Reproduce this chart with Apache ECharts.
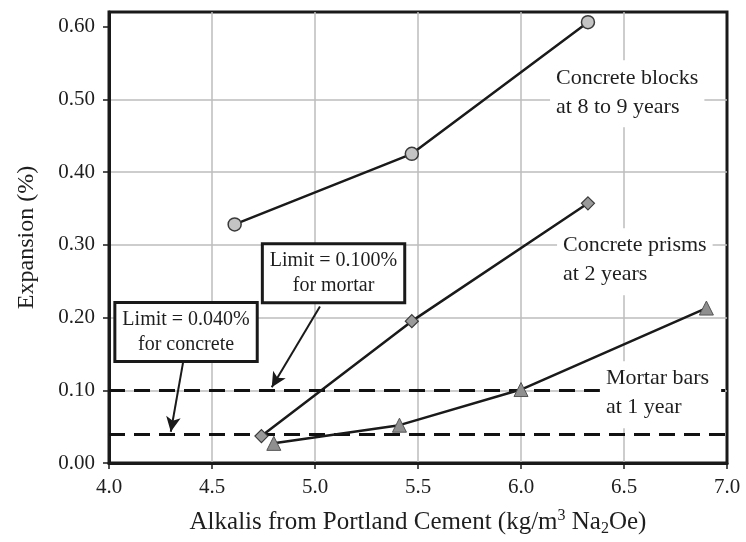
<!DOCTYPE html>
<html>
<head>
<meta charset="utf-8">
<script src="https://cdn.jsdelivr.net/npm/echarts@6/dist/echarts.min.js"></script>
<style>
  html, body { margin: 0; padding: 0; background: #fff; }
  #chart { width: 746px; height: 542px; }
</style>
</head>
<body>
<div id="chart"></div>
<script>
// Axis ticks
const xTicks = [4.0, 4.5, 5.0, 5.5, 6.0, 6.5, 7.0];
const yTicks = [0.0, 0.1, 0.2, 0.3, 0.4, 0.5, 0.6];

// Expansion (%) against alkali content (kg/m3 Na2Oe)
const blocksAlkali = [4.61, 5.47, 6.325];
const blocksExpansion = [0.328, 0.425, 0.606];
const prismsAlkali = [4.74, 5.47, 6.325];
const prismsExpansion = [0.037, 0.195, 0.357];
const mortarAlkali = [4.80, 5.41, 6.00, 6.90];
const mortarExpansion = [0.027, 0.052, 0.101, 0.213];

// Expansion limits
const limitMortar = 0.100;
const limitConcrete = 0.040;

const FONT = '"Liberation Serif", "Times New Roman", serif';
const INK = '#1e1e1e';

const pairs = (xs, ys) => xs.map((x, i) => [x, ys[i]]);

const chart = echarts.init(document.getElementById('chart'), null, { renderer: 'canvas' });

const lineStyle = { color: '#1a1a1a', width: 2.5 };
const gridLine = { show: true, showMinLine: false, showMaxLine: false, lineStyle: { color: '#bdbdbd', width: 1.5 } };

chart.setOption({
  animation: false,
  backgroundColor: '#fff',
  grid: {
    left: 109, right: 19, top: 12, bottom: 79,
    outerBoundsMode: 'none', containLabel: false,
    show: true, borderColor: '#1a1a1a', borderWidth: 3, backgroundColor: 'transparent'
  },
  xAxis: {
    type: 'value', min: 4.0, max: 7.0, interval: 0.5,
    axisLine: { show: true, lineStyle: { color: '#1a1a1a', width: 3 } },
    axisTick: { show: true, length: 6, customValues: xTicks, lineStyle: { color: '#1a1a1a', width: 1.5 } },
    axisLabel: {
      margin: 14, color: INK, fontFamily: FONT, fontSize: 21,
      customValues: xTicks,
      formatter: v => v.toFixed(1)
    },
    splitLine: gridLine,
    name: '{n|Alkalis from Portland Cement (kg/m}{sup|3}{n| Na}{sub|2}{n|Oe)}',
    nameLocation: 'middle', nameGap: 44,
    nameTextStyle: {
      color: INK, fontFamily: FONT, fontSize: 25,
      rich: {
        n: { fontFamily: FONT, fontSize: 25, color: INK },
        sup: { fontFamily: FONT, fontSize: 16, color: INK, padding: [0, 0, 12, 0] },
        sub: { fontFamily: FONT, fontSize: 16, color: INK, padding: [14, 0, 0, 0] }
      }
    }
  },
  yAxis: {
    type: 'value', min: 0, max: 0.62, interval: 0.1,
    axisLine: { show: true, lineStyle: { color: '#1a1a1a', width: 3 } },
    axisTick: { show: true, length: 6, customValues: yTicks, lineStyle: { color: '#1a1a1a', width: 1.5 } },
    axisLabel: {
      margin: 14, color: INK, fontFamily: FONT, fontSize: 21,
      customValues: yTicks,
      formatter: v => v.toFixed(2)
    },
    splitLine: gridLine,
    name: 'Expansion (%)',
    nameLocation: 'middle', nameGap: 70, nameRotate: 90,
    nameTextStyle: { color: INK, fontFamily: FONT, fontSize: 24 }
  },
  series: [
    {
      name: 'Concrete blocks at 8 to 9 years',
      type: 'line',
      data: pairs(blocksAlkali, blocksExpansion),
      symbol: 'circle', symbolSize: 13,
      lineStyle: lineStyle,
      itemStyle: { color: '#c4c4c4', borderColor: '#3a3a3a', borderWidth: 1.5 },
      z: 5
    },
    {
      name: 'Concrete prisms at 2 years',
      type: 'line',
      data: pairs(prismsAlkali, prismsExpansion),
      symbol: 'diamond', symbolSize: 13,
      lineStyle: lineStyle,
      itemStyle: { color: '#9a9a9a', borderColor: '#3a3a3a', borderWidth: 1.2 },
      z: 5,
      markLine: {
        silent: true, symbol: 'none', animation: false,
        label: { show: false },
        lineStyle: { color: '#111', width: 3, type: [16, 9] },
        data: [{ yAxis: limitMortar }, { yAxis: limitConcrete }]
      }
    },
    {
      name: 'Mortar bars at 1 year',
      type: 'line',
      data: pairs(mortarAlkali, mortarExpansion),
      symbol: 'triangle', symbolSize: 14,
      lineStyle: lineStyle,
      itemStyle: { color: '#8f8f8f', borderColor: '#555', borderWidth: 1 },
      z: 5,
      markLine: {
        silent: true, animation: false,
        symbol: ['none', 'arrow'], symbolSize: [11, 15],
        label: { show: false },
        lineStyle: { color: '#1a1a1a', width: 2, type: 'solid' },
        data: [
          [{ coord: [5.024, 0.215] }, { coord: [4.79, 0.104] }],
          [{ coord: [4.36, 0.139] }, { coord: [4.30, 0.043] }]
        ]
      }
    }
  ]
});

// Annotations, anchored in data units and converted to pixels
const px = (x, y) => chart.convertToPixel({ gridIndex: 0 }, [x, y]);

function seriesLabel(text, x, y, padding) {
  const p = px(x, y);
  return {
    type: 'text', x: p[0], y: p[1], z: 100,
    style: {
      text: text, font: '22px ' + FONT, fill: INK,
      lineHeight: 29, align: 'left', verticalAlign: 'top',
      backgroundColor: '#fff', padding: padding
    }
  };
}

function limitBox(text, x, y) {
  const p = px(x, y);
  return {
    type: 'text', x: p[0], y: p[1], z: 100,
    style: {
      text: text, font: '20px ' + FONT, fill: INK,
      lineHeight: 25, align: 'center', verticalAlign: 'middle',
      backgroundColor: '#fff', borderColor: '#1a1a1a', borderWidth: 3,
      padding: [3, 6, 3, 6]
    }
  };
}

chart.setOption({
  graphic: [
    seriesLabel('Concrete blocks\nat 8 to 9 years', 6.141, 0.5536, [3, 6, 6, 6]),
    seriesLabel('Concrete prisms\nat 2 years', 6.175, 0.3228, [3, 6, 6, 6]),
    seriesLabel('Mortar bars\nat 1 year', 6.383, 0.140, [3, 12, 6, 6]),
    limitBox('Limit = 0.100%\nfor mortar', 5.090, 0.261),
    limitBox('Limit = 0.040%\nfor concrete', 4.374, 0.180)
  ]
});
</script>
</body>
</html>
